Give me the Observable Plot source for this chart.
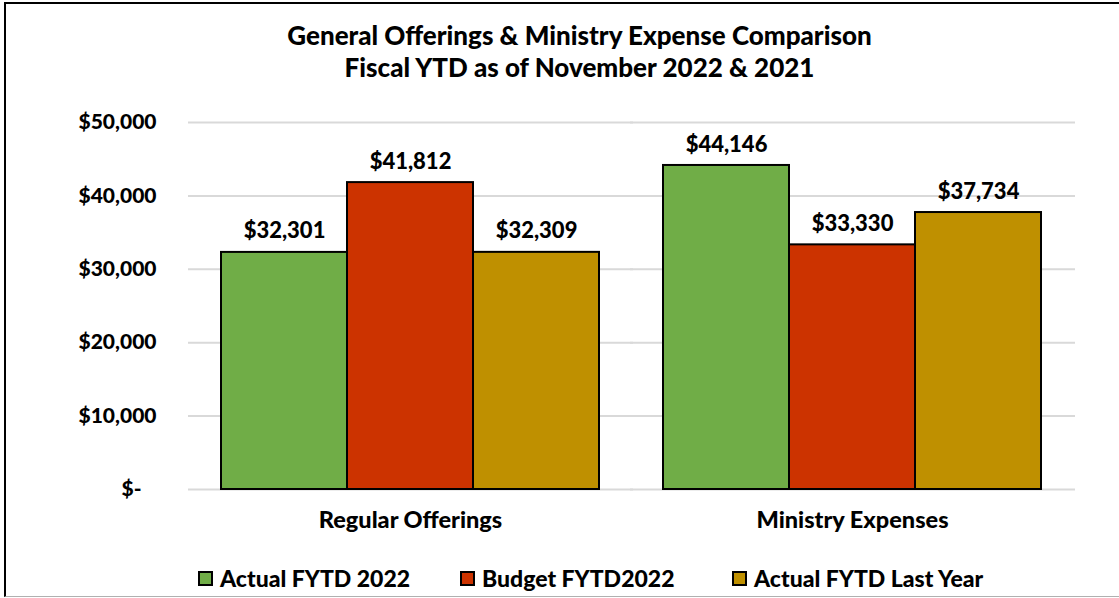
<!DOCTYPE html>
<html><head><meta charset="utf-8">
<script src="https://cdn.jsdelivr.net/npm/d3@7"></script>
<script src="https://cdn.jsdelivr.net/npm/@observablehq/plot@0.6"></script>
<style>
body{margin:0;background:#fff;}
#wrap{position:relative;width:1119px;height:598px;overflow:hidden;font-family:Lato,"Open Sans",sans-serif;font-weight:900;color:#000;}
#frame{position:absolute;left:4px;top:2px;width:1140px;height:592px;border-top:2.5px solid #000;border-left:2.5px solid #000;border-bottom:1px solid #b0b0b0;}
#title{position:absolute;left:20px;width:1119px;top:19px;text-align:center;font-size:26px;line-height:32px;}
#chart{position:absolute;left:0;top:0;}
.lg{position:absolute;top:566px;display:flex;align-items:center;font-size:23px;line-height:24px;white-space:nowrap;}
.sw{width:11px;height:11px;border:2px solid #000;margin-right:7px;}
</style></head>
<body>
<div id="wrap">
  <div id="frame"></div>
  <div id="title">General Offerings &amp; Ministry Expense Comparison<br>Fiscal YTD as of November 2022 &amp; 2021</div>
  <div id="chart"></div>
</div>
<script>
const categories = ["Regular Offerings", "Ministry Expenses"];
const series = ["Actual FYTD 2022", "Budget FYTD2022", "Actual FYTD Last Year"];
const actual2022 = [32301, 44146];
const budget2022 = [41812, 33330];
const actualLastYear = [32309, 37734];
const colors = ["#70ad47", "#cc3300", "#bf9000"];
const yTicks = [0, 10000, 20000, 30000, 40000, 50000];

const seriesValues = [actual2022, budget2022, actualLastYear];
const data = [];
categories.forEach((c, i) => series.forEach((s, j) => data.push({category: c, series: s, value: seriesValues[j][i]})));

const fmt = d3.format(",");
const plot = Plot.plot({
  width: 1119,
  height: 598,
  marginLeft: 220,
  marginRight: 77,
  marginTop: 122,
  marginBottom: 109,
  style: {fontFamily: "Lato, 'Open Sans', sans-serif", fontWeight: "900", fontSize: "20px", background: "transparent", color: "#000"},
  fx: {domain: categories, paddingInner: 0.1403, paddingOuter: 0, label: null},
  x: {domain: series, padding: 0, axis: null},
  y: {domain: [0, 50000], axis: null},
  color: {domain: series, range: colors},
  marks: [
    Plot.ruleY(yTicks, {stroke: "#d9d9d9", strokeWidth: 2, insetLeft: -32, insetRight: -33}),
    Plot.barY(data, {fx: "category", x: "series", y: "value", fill: "series", stroke: "#000", strokeWidth: 2}),
    Plot.text(data, {fx: "category", x: "series", y: "value", text: d => "$" + fmt(d.value), dy: -21, fontSize: 22, fontWeight: "900", fill: "#000"}),
    Plot.axisY({ticks: yTicks, tickSize: 0, tickPadding: 64, fontSize: 21, fontWeight: "900", tickFormat: v => v === 0 ? "$-\u00a0\u00a0\u00a0" : "$" + fmt(v), label: null}),
    Plot.axisFx({anchor: "bottom", tickSize: 0, tickPadding: 22, fontSize: 23.5, fontWeight: "900", label: null})
  ]
});
document.getElementById("chart").appendChild(plot);

const wrap = document.getElementById("wrap");
const legendLeft = [198, 460, 732];
series.forEach((s, i) => {
  const item = document.createElement("div");
  item.className = "lg";
  item.style.left = legendLeft[i] + "px";
  const sw = document.createElement("div");
  sw.className = "sw";
  sw.style.background = colors[i];
  const t = document.createElement("span");
  t.textContent = s;
  item.appendChild(sw);
  item.appendChild(t);
  wrap.appendChild(item);
});
</script>
</body></html>
